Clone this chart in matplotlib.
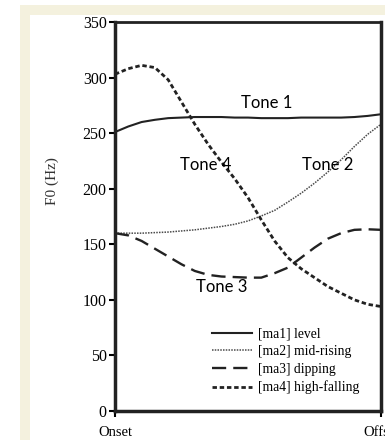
import matplotlib
matplotlib.use('Agg')
import matplotlib.pyplot as plt
from matplotlib.patches import Rectangle

# normalized time from onset to offset
t = [0.0, 0.05, 0.1, 0.15, 0.2, 0.25, 0.3, 0.35, 0.4, 0.45, 0.5,
     0.55, 0.6, 0.65, 0.7, 0.75, 0.8, 0.85, 0.9, 0.95, 1.0]

tone1 = [251, 256, 260, 262, 263.5, 264, 264.5, 264.5, 264.5, 264, 264,
         263.5, 263.5, 263.5, 264, 264, 264, 264, 264.5, 265.5, 267]
tone2 = [160, 160, 160, 160.5, 161, 162, 163, 164.5, 166, 168, 171,
         175.5, 180.5, 188, 196, 205, 215, 226, 238, 249, 258]
tone3 = [160, 158, 153, 146, 139, 132, 126, 122.5, 121, 120.5, 120,
         120, 124, 129, 138, 147, 155, 160, 163, 163.5, 163]
tone4 = [303, 308, 311, 309, 298, 278, 258, 240, 224, 209, 192,
         172, 153, 138, 128, 120, 112, 106, 100, 96, 94]

labels = ['[ma1] level', '[ma2] mid-rising', '[ma3] dipping', '[ma4] high-falling']
notes = ['Tone 1', 'Tone 2', 'Tone 3', 'Tone 4']
note_xy = [(0.57, 277), (0.80, 221), (0.40, 112), (0.34, 221)]

W, H = 385, 440
fig = plt.figure(figsize=(W / 100, H / 100), dpi=100)
fig.patch.set_facecolor('white')
# beige frame of the screenshot
fig.add_artist(Rectangle((20 / W, 0), 1, 1 - 5 / H, transform=fig.transFigure,
                         facecolor='#f4f1de', edgecolor='none', zorder=0))
fig.add_artist(Rectangle((30 / W, 0), 1, 1 - 15 / H, transform=fig.transFigure,
                         facecolor='white', edgecolor='none', zorder=0))

ax = fig.add_axes([115 / W, 1 - 411 / H, 266 / W, 389 / H])
ax.set_facecolor('none')

ax.plot(t, tone1, color='#222222', lw=1.5, ls='-', label=labels[0])
ax.plot(t, tone2, color='#4a4a4a', lw=1.1, ls=(0, (1, 0.8)), label=labels[1])
ax.plot(t, tone3, color='#222222', lw=1.7, ls=(0, (6, 3)), label=labels[2])
ax.plot(t, tone4, color='#222222', lw=2.0, ls=(0, (1.6, 1)), label=labels[3])

for s, (x, y) in zip(notes, note_xy):
    ax.text(x, y, s, family='Lato', fontsize=12, ha='center', va='center')

ax.set_xlim(0, 1)
ax.set_ylim(0, 350)
ax.set_yticks(range(0, 351, 50))
ax.set_xticks([0, 1])
ax.set_xticklabels(['Onset', 'Offset'], family='Liberation Serif', fontsize=10.5)
for lab in ax.get_yticklabels():
    lab.set_family('Liberation Serif')
    lab.set_fontsize(11.5)
ax.tick_params(axis='y', direction='out', length=4, width=1.5, pad=2)
ax.tick_params(axis='x', direction='out', length=4, width=1.5, pad=7)
ax.set_ylabel('F0 (Hz)', family='Liberation Serif', fontsize=11,
              color='#333333')
ax.yaxis.set_label_coords(-0.21, 0.59)

for side in ['left', 'bottom', 'right']:
    ax.spines[side].set_linewidth(2.5)
ax.spines['top'].set_linewidth(2)
for sp in ax.spines.values():
    sp.set_color('#222222')

ax.legend(loc='upper left', bbox_to_anchor=(0.365, 0.215), frameon=False,
          prop={'family': 'Liberation Serif', 'size': 9.8}, handlelength=2.9,
          handletextpad=0.5, labelspacing=0.35, borderpad=0, borderaxespad=0)

plt.savefig('out.png', dpi=100)
